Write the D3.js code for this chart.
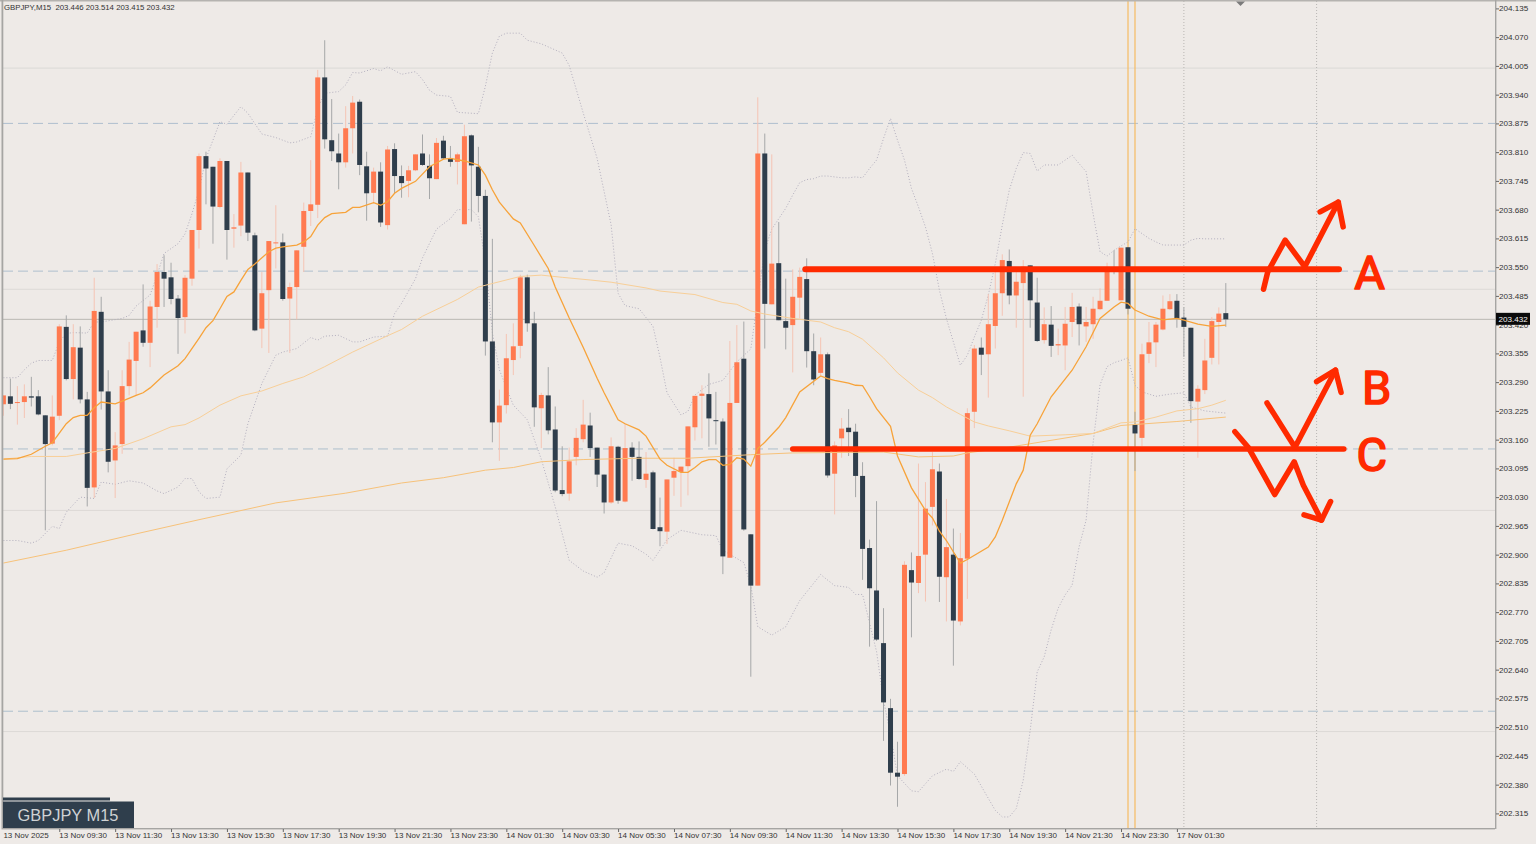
<!DOCTYPE html>
<html><head><meta charset="utf-8">
<script src="https://cdn.jsdelivr.net/npm/d3@7"></script>
<style>
html,body{margin:0;padding:0;background:#eeeae7;overflow:hidden}
svg{display:block}
text{font-family:"Liberation Sans",Arial,sans-serif}
</style></head><body>
<svg id="c" width="1536" height="844"></svg>
<script>
const symbolHeader = "GBPJPY,M15  203.446 203.514 203.415 203.432";
const symbolBadge = "GBPJPY M15";
const opens = [
203.240,203.258,203.243,203.245,203.258,203.258,203.215,203.151,203.214,203.415,
203.297,203.368,203.251,203.052,203.449,203.269,203.113,203.150,203.281,203.338,
203.407,203.379,203.460,203.539,203.527,203.479,203.437,203.524,203.634,203.801,
203.777,203.686,203.790,203.637,203.644,203.764,203.622,203.411,203.498,203.605,
203.606,203.479,203.505,203.596,203.677,203.691,203.979,203.837,203.807,203.787,
203.864,203.924,203.778,203.718,203.766,203.645,203.817,203.756,203.745,203.769,
203.807,203.779,203.749,203.836,203.796,203.788,203.647,203.848,203.777,203.711,
203.382,203.199,203.238,203.340,203.372,203.527,203.423,203.231,203.260,203.183,
203.046,203.038,203.121,203.161,203.192,203.142,203.081,203.018,203.144,203.020,
203.142,203.121,203.069,203.086,202.962,202.952,203.074,203.087,203.100,203.188,
203.259,203.263,203.204,203.201,202.893,203.243,203.343,202.946,202.830,203.807,
203.466,203.559,203.428,203.419,203.481,203.523,203.360,203.311,203.353,203.083,
203.163,203.187,203.178,203.078,202.915,202.819,202.700,202.553,202.407,202.404,
202.865,202.836,202.900,203.008,203.088,202.849,202.900,202.749,202.891,203.223,
203.368,203.353,203.417,203.491,203.564,203.486,203.514,203.554,203.470,203.385,
203.420,203.373,203.373,203.426,203.461,203.416,203.421,203.455,203.474,203.545,
203.475,203.595,203.194,203.164,203.354,203.380,203.409,203.455,203.474,203.436,
203.413,203.246,203.272,203.345,203.426,203.446];
const highs = [
203.260,203.298,203.281,203.285,203.302,203.272,203.215,203.260,203.421,203.441,
203.421,203.416,203.268,203.526,203.483,203.317,203.177,203.317,203.381,203.404,
203.511,203.474,203.557,203.577,203.560,203.487,203.532,203.634,203.807,203.811,
203.777,203.796,203.790,203.670,203.788,203.764,203.628,203.539,203.609,203.690,
203.626,203.515,203.588,203.696,203.792,203.996,204.063,203.930,203.852,203.914,
203.937,203.929,203.811,203.775,203.787,203.824,203.830,203.780,203.779,203.805,
203.850,203.805,203.842,203.847,203.824,203.809,203.872,203.850,203.822,203.725,
203.614,203.273,203.399,203.423,203.533,203.533,203.449,203.266,203.324,203.235,
203.145,203.142,203.186,203.250,203.221,203.142,203.081,203.165,203.146,203.196,
203.154,203.156,203.132,203.090,203.029,203.070,203.119,203.099,203.190,203.259,
203.283,203.310,203.268,203.208,203.383,203.419,203.427,202.946,203.934,203.852,
203.805,203.652,203.524,203.545,203.549,203.570,203.400,203.391,203.357,203.156,
203.209,203.229,203.196,203.109,202.934,203.021,202.779,202.574,202.477,202.885,
202.905,203.106,203.064,203.132,203.106,203.026,202.959,202.949,203.231,203.374,
203.391,203.489,203.549,203.579,203.590,203.547,203.566,203.554,203.526,203.459,
203.462,203.411,203.460,203.492,203.468,203.460,203.483,203.502,203.560,203.588,
203.594,203.595,203.223,203.377,203.426,203.426,203.486,203.489,203.489,203.459,
203.413,203.283,203.388,203.437,203.459,203.514];
const lows = [
203.214,203.229,203.194,203.209,203.235,203.215,202.955,203.147,203.204,203.294,
203.251,203.242,203.009,203.028,203.228,203.086,203.028,203.128,203.260,203.260,
203.370,203.324,203.413,203.460,203.466,203.354,203.400,203.508,203.592,203.692,
203.603,203.683,203.567,203.594,203.620,203.609,203.405,203.367,203.356,203.547,
203.474,203.356,203.432,203.539,203.643,203.661,203.818,203.790,203.726,203.775,
203.807,203.758,203.655,203.694,203.641,203.635,203.717,203.707,203.708,203.767,
203.779,203.704,203.749,203.794,203.777,203.737,203.647,203.653,203.674,203.350,
203.154,203.112,203.219,203.306,203.344,203.404,203.189,203.141,203.172,203.041,
203.032,203.022,203.102,203.154,203.121,203.053,202.993,203.015,203.015,203.018,
203.067,203.069,203.051,202.957,202.919,202.924,203.033,203.008,203.034,203.158,
203.163,203.144,203.149,202.856,202.893,203.243,202.954,202.624,202.830,203.366,
203.466,203.430,203.364,203.312,203.434,203.323,203.283,203.306,203.074,202.991,
203.119,203.123,203.030,202.843,202.692,202.705,202.479,202.378,202.330,202.400,
202.713,202.813,202.794,202.966,202.793,202.749,202.649,202.740,202.800,203.186,
203.306,203.255,203.366,203.440,203.466,203.413,203.257,203.413,203.381,203.377,
203.347,203.351,203.317,203.392,203.373,203.381,203.388,203.453,203.474,203.534,
203.475,203.443,203.089,203.145,203.333,203.324,203.407,203.453,203.413,203.347,
203.198,203.119,203.263,203.330,203.330,203.415];
const closes = [
203.260,203.241,203.245,203.258,203.255,203.217,203.150,203.212,203.416,203.297,
203.369,203.251,203.051,203.451,203.269,203.110,203.147,203.281,203.341,203.404,
203.379,203.461,203.539,203.524,203.478,203.435,203.526,203.634,203.801,203.773,
203.687,203.790,203.634,203.640,203.764,203.628,203.407,203.491,203.609,203.606,
203.478,203.505,203.588,203.677,203.692,203.979,203.839,203.812,203.787,203.864,
203.922,203.781,203.717,203.766,203.651,203.816,203.756,203.740,203.769,203.805,
203.781,203.751,203.831,203.796,203.788,203.805,203.846,203.780,203.711,203.382,
203.199,203.237,203.344,203.371,203.527,203.423,203.233,203.261,203.181,203.045,
203.037,203.111,203.164,203.194,203.141,203.081,203.018,203.145,203.022,203.141,
203.121,203.071,203.083,202.958,202.953,203.070,203.089,203.099,203.190,203.259,
203.264,203.208,203.202,202.896,203.243,203.335,202.957,202.830,203.807,203.467,
203.558,203.430,203.413,203.483,203.528,203.360,203.296,203.353,203.079,203.147,
203.185,203.177,203.078,202.913,202.824,202.708,202.566,202.407,202.398,202.877,
202.837,202.897,203.004,203.093,202.850,202.917,202.751,202.892,203.220,203.366,
203.352,203.421,203.491,203.566,203.486,203.517,203.551,203.475,203.383,203.421,
203.372,203.376,203.422,203.460,203.421,203.426,203.456,203.474,203.545,203.540,
203.594,203.456,203.174,203.353,203.380,203.420,203.456,203.473,203.434,203.415,
203.247,203.275,203.339,203.428,203.445,203.432];

const fastMaBars = [0,2,4,6,7,9,10,11,12,13,14,16,17,19,20,21,23,25,26,28,29,30,31,32,33,34,35,36,38,39,40,42,43,44,45,46,47,49,50,51,53,54,55,56,57,59,61,63,64,66,68,69,70,71,73,74,76,78,79,81,83,85,86,88,89,91,92,94,95,97,98,99,100,101,102,103,104,105,106,107,108,109,111,112,114,117,118,119,121,122,123,124,125,127,128,130,132,133,134,135,137,138,141,142,143,145,146,147,148,150,153,155,157,159,160,161,162,164,166,168,169,171,173,175];
const fastMaValues = [203.116,203.117,203.127,203.145,203.153,203.196,203.210,203.215,203.215,203.232,203.245,203.241,203.247,203.260,203.266,203.277,203.306,203.327,203.343,203.389,203.413,203.429,203.456,203.484,203.494,203.520,203.545,203.557,203.585,203.593,203.596,203.600,203.607,203.619,203.645,203.662,203.671,203.674,203.685,203.685,203.696,203.690,203.698,203.717,203.728,203.744,203.777,203.794,203.796,203.790,203.781,203.758,203.725,203.697,203.659,203.650,203.599,203.547,203.505,203.435,203.369,203.299,203.266,203.205,203.196,203.182,203.168,203.116,203.102,203.086,203.086,203.097,203.110,203.115,203.115,203.102,203.104,203.119,203.116,203.100,203.140,203.154,203.188,203.210,203.268,203.304,203.298,203.294,203.288,203.283,203.282,203.257,203.230,203.190,203.123,203.051,203.000,202.983,202.953,202.932,202.881,202.889,202.917,202.940,202.978,203.060,203.091,203.170,203.196,203.257,203.317,203.370,203.434,203.460,203.471,203.468,203.453,203.439,203.431,203.434,203.430,203.421,203.416,203.419];

const midMaBars = [0,4,9,12,16,20,24,26,28,31,34,37,40,43,46,50,55,57,60,65,68,70,74,77,80,84,87,92,94,99,103,105,107,109,113,117,119,121,123,126,128,131,133,135,137,139,141,144,147,152,156,159,160,162,165,168,171,173,175];
const midMaValues = [203.116,203.122,203.122,203.130,203.140,203.162,203.189,203.194,203.209,203.238,203.259,203.270,203.287,203.302,203.325,203.358,203.395,203.409,203.439,203.477,203.505,203.513,203.529,203.532,203.527,203.521,203.516,203.503,203.496,203.488,203.470,203.466,203.451,203.444,203.434,203.426,203.413,203.404,203.387,203.345,203.311,203.272,203.255,203.234,203.217,203.200,203.191,203.180,203.168,203.171,203.174,203.192,203.198,203.200,203.211,203.225,203.230,203.238,203.249];

const slowMaBars = [0,9,19,28,39,49,57,63,69,73,77,83,91,98,107,113,126,131,136,138,144,156,160,168,175];
const slowMaValues = [202.881,202.910,202.947,202.979,203.017,203.039,203.062,203.074,203.091,203.097,203.110,203.115,203.118,203.118,203.126,203.130,203.132,203.121,203.123,203.130,203.143,203.174,203.192,203.201,203.211];

const upperBandBars = [0,2,3,4,5,7,8,9,10,12,13,14,17,18,19,21,22,23,25,26,27,28,29,30,31,32,34,35,37,39,41,42,44,45,46,48,49,50,51,53,54,55,57,59,60,61,62,64,65,68,69,70,71,72,74,75,77,80,81,83,85,87,88,89,91,93,94,95,97,98,99,101,103,105,107,109,110,112,113,114,115,116,117,118,119,120,121,122,123,124,125,126,127,128,129,130,131,132,133,134,135,136,137,138,139,140,141,142,143,144,145,146,147,148,149,150,151,152,153,154,155,156,157,158,159,160,161,162,163,164,165,166,168,169,170,171,172,175];
const upperBandValues = [203.300,203.300,203.318,203.333,203.339,203.339,203.381,203.400,203.402,203.401,203.426,203.426,203.434,203.441,203.462,203.487,203.532,203.581,203.603,203.625,203.671,203.724,203.796,203.837,203.879,203.873,203.913,203.898,203.851,203.843,203.831,203.833,203.845,203.909,203.943,203.947,203.962,203.990,203.989,203.999,203.994,204.003,203.986,203.992,203.974,203.950,203.939,203.936,203.900,203.897,203.959,204.034,204.072,204.079,204.079,204.063,204.055,204.034,204.006,203.899,203.796,203.646,203.491,203.463,203.456,203.416,203.346,203.266,203.216,203.224,203.261,203.285,203.294,203.336,203.365,203.589,203.636,203.683,203.713,203.741,203.748,203.750,203.756,203.756,203.754,203.752,203.752,203.754,203.752,203.773,203.792,203.841,203.886,203.837,203.792,203.728,203.686,203.641,203.581,203.498,203.434,203.381,203.328,203.351,203.392,203.430,203.487,203.558,203.645,203.724,203.773,203.809,203.807,203.767,203.781,203.781,203.781,203.792,203.803,203.784,203.766,203.671,203.585,203.575,203.588,203.598,203.607,203.637,203.626,203.615,203.607,203.600,203.600,203.600,203.611,203.615,203.614,203.614];

const lowerBandBars = [0,2,4,5,7,8,9,11,13,14,16,18,20,22,23,25,26,27,28,29,31,32,34,35,37,39,40,42,44,45,46,48,50,51,53,55,56,57,59,60,62,64,65,67,68,69,70,71,73,75,77,79,81,83,85,86,88,90,92,93,95,97,100,102,103,106,107,108,110,112,114,117,119,121,122,123,125,126,127,128,130,131,133,135,136,137,139,141,142,143,144,145,146,147,148,149,150,151,152,153,154,155,156,157,158,159,160,161,162,163,165,167,169,170,172,175];
const lowerBandValues = [202.932,202.932,202.926,202.932,202.964,202.959,202.996,203.030,203.027,203.064,203.059,203.067,203.062,203.044,203.038,203.053,203.072,203.072,203.042,203.027,203.030,203.094,203.125,203.196,203.287,203.351,203.358,203.366,203.391,203.385,203.394,203.396,203.381,203.381,203.392,203.394,203.445,203.468,203.524,203.571,203.636,203.660,203.680,203.680,203.664,203.561,203.402,203.318,203.238,203.205,203.116,203.008,202.887,202.863,202.849,202.859,202.926,202.920,202.901,202.887,202.934,202.955,202.945,202.943,202.910,202.882,202.830,202.737,202.718,202.737,202.796,202.855,202.830,202.826,202.810,202.810,202.681,202.570,202.494,202.400,202.366,202.364,202.400,202.415,202.410,202.432,202.404,202.349,202.322,202.307,202.307,202.326,202.390,202.503,202.635,202.669,202.730,202.779,202.809,202.831,202.918,202.978,203.152,203.284,203.325,203.334,203.339,203.345,203.283,203.268,203.258,203.263,203.266,203.234,203.225,203.220];

const priceTicks = [204.135,204.070,204.005,203.940,203.875,203.810,203.745,203.680,203.615,203.550,203.485,203.420,203.355,203.290,203.225,203.160,203.095,203.030,202.965,202.900,202.835,202.770,202.705,202.640,202.575,202.510,202.445,202.380,202.315];
const timeTickBars = [0,8,16,24,32,40,48,56,64,72,80,88,96,104,112,120,128,136,144,152,160,168];
const timeTickLabels = ["13 Nov 2025","13 Nov 09:30","13 Nov 11:30","13 Nov 13:30","13 Nov 15:30","13 Nov 17:30","13 Nov 19:30","13 Nov 21:30","13 Nov 23:30","14 Nov 01:30","14 Nov 03:30","14 Nov 05:30","14 Nov 07:30","14 Nov 09:30","14 Nov 11:30","14 Nov 13:30","14 Nov 15:30","14 Nov 17:30","14 Nov 19:30","14 Nov 21:30","14 Nov 23:30","17 Nov 01:30"];

const roundLevels = [204.0,203.5,203.0,202.5];
const dashedLevels = [203.875,203.541,203.139,202.546];
const bidPrice = 203.432;
const orangeVerticalBars = [161,162];
const dottedVerticalBars = [169,188];

// hand-drawn annotation strokes, as [bar, price]
const levelA = [[114.8,203.545],[191.2,203.545]];
const levelC = [[113.0,203.139],[191.9,203.139]];
const scribbleA = [[180.4,203.500],[181.0,203.539],[183.5,203.611],[186.3,203.551],[191.1,203.697]];
const arrowheadA = [[188.5,203.675],[191.1,203.697],[191.8,203.641]];
const scribbleB = [[180.9,203.243],[184.9,203.143],[190.7,203.317]];
const arrowheadB = [[188.0,203.291],[190.7,203.317],[191.5,203.267]];
const scribbleC = [[176.3,203.178],[178.2,203.143],[182.0,203.036],[184.8,203.110],[186.1,203.057],[188.7,202.978]];
const arrowheadC = [[186.2,202.990],[188.7,202.978],[190.0,203.020]];
const handLabels = [{t:"A",bar:195.6,price:203.529},{t:"B",bar:196.6,price:203.268},{t:"C",bar:195.9,price:203.118}];

const W=1536,H=844,plotL=3,plotR=1495,plotT=1,plotB=828;
const x=d3.scaleLinear().domain([0,175]).range([3.4,1225.8]);
const y=d3.scaleLinear().domain([204.135,202.315]).range([8.4,813.4]);
const svg=d3.select("#c");
const bars=opens.map((o,i)=>({i,o,h:highs[i],l:lows[i],c:closes[i]}));
const DARK="#2f3e4c",ORG="#ff7a50",RED="#ff2a00",AXIS_TEXT="#333333";

svg.append("rect").attr("width",W).attr("height",H).attr("fill","#eeeae7");
svg.append("clipPath").attr("id","plot").append("rect").attr("x",plotL).attr("y",plotT).attr("width",plotR-plotL).attr("height",plotB-plotT);
const g=svg.append("g").attr("clip-path","url(#plot)");

g.selectAll(".round").data(roundLevels).join("line").attr("x1",plotL).attr("x2",plotR)
 .attr("y1",d=>y(d)).attr("y2",d=>y(d)).attr("stroke","#dcd9d6").attr("stroke-width",1);
g.selectAll(".dash").data(dashedLevels).join("line").attr("x1",plotL).attr("x2",plotR)
 .attr("y1",d=>y(d)).attr("y2",d=>y(d)).attr("stroke","#aebfce").attr("stroke-width",1).attr("stroke-dasharray","10,5");
g.append("line").attr("x1",plotL).attr("x2",plotR).attr("y1",y(bidPrice)).attr("y2",y(bidPrice)).attr("stroke","#bab7b2").attr("stroke-width",1);
g.selectAll(".vd").data(dottedVerticalBars).join("line").attr("y1",plotT).attr("y2",plotB)
 .attr("x1",d=>x(d)).attr("x2",d=>x(d)).attr("stroke","#b8b6b3").attr("stroke-width",1).attr("stroke-dasharray","1,2");
g.selectAll(".vo").data(orangeVerticalBars).join("line").attr("y1",plotT).attr("y2",plotB)
 .attr("x1",d=>x(d)).attr("x2",d=>x(d)).attr("stroke","#f6bb62").attr("stroke-width",1.2);

const line=(b,v)=>d3.line().x((d,i)=>x(b[i])).y(d=>y(d))(v);
const path=(b,v,s,w,da)=>g.append("path").attr("d",line(b,v)).attr("fill","none").attr("stroke",s).attr("stroke-width",w).attr("stroke-dasharray",da||null);
path(upperBandBars,upperBandValues,"#b3afbe",1,"1,2");
path(lowerBandBars,lowerBandValues,"#b3afbe",1,"1,2");

g.selectAll(".wick").data(bars).join("line")
 .attr("x1",d=>x(d.i)).attr("x2",d=>x(d.i)).attr("y1",d=>y(d.h)).attr("y2",d=>y(d.l))
 .attr("stroke",d=>d.c>=d.o?"#f5c4b4":"#a5a7a8").attr("stroke-width",1);
g.selectAll(".body").data(bars).join("rect")
 .attr("x",d=>x(d.i)-2.5).attr("width",5)
 .attr("y",d=>y(Math.max(d.o,d.c))).attr("height",d=>Math.max(1,Math.abs(y(d.o)-y(d.c))))
 .attr("fill",d=>d.c>=d.o?ORG:DARK);

path(slowMaBars,slowMaValues,"#f7c27a",1);
path(midMaBars,midMaValues,"#f8cf98",1);
path(fastMaBars,fastMaValues,"#f7a33a",1.3);

const ann=svg.append("g").attr("fill","none").attr("stroke",RED).attr("stroke-linecap","round").attr("stroke-linejoin","round");
const pl=d3.line().x(d=>x(d[0])).y(d=>y(d[1]));
[[levelA,6],[levelC,5.5],[scribbleA,5.5],[arrowheadA,5.5],[scribbleB,5.5],[arrowheadB,5.5],[scribbleC,5.5],[arrowheadC,5.5]].forEach(([a,w])=>
  ann.append("path").attr("d",pl(a)).attr("stroke-width",w));
svg.selectAll(".hand").data(handLabels).join("text")
 .attr("x",d=>x(d.bar)).attr("y",d=>y(d.price)).attr("text-anchor","middle").attr("dominant-baseline","middle")
 .attr("font-size",47).attr("fill",RED).attr("stroke",RED).attr("stroke-width",1.6).attr("stroke-linejoin","round")
 .style("font-family","Roboto").text(d=>d.t);

// frame
const frame="#a6a5a3";
svg.append("rect").attr("x",0).attr("y",0).attr("width",W).attr("height",1.5).attr("fill","#b5b3b0");
svg.append("rect").attr("x",1.5).attr("y",0).attr("width",1.8).attr("height",plotB).attr("fill",frame);
svg.append("rect").attr("x",1.5).attr("y",plotB).attr("width",plotR-1.5).attr("height",1.4).attr("fill",frame);
svg.append("rect").attr("x",plotR).attr("y",0).attr("width",1.4).attr("height",plotB+1).attr("fill",frame);

// axes
const ya=d3.axisRight(y).tickValues(priceTicks).tickFormat(d3.format(".3f")).tickSize(3).tickPadding(0);
const yg=svg.append("g").attr("transform",`translate(${plotR+1},0)`).call(ya);
yg.select(".domain").remove();
yg.selectAll("text").attr("font-size",8.1).attr("fill",AXIS_TEXT).style("font-family","'Liberation Sans'");
yg.selectAll("line").attr("stroke","#666");
const xa=d3.axisBottom(x).tickValues(timeTickBars).tickFormat((d,i)=>timeTickLabels[i]).tickSize(3).tickPadding(0);
const xg=svg.append("g").attr("transform",`translate(0,${plotB+1})`).call(xa);
xg.select(".domain").remove();
xg.selectAll("text").attr("text-anchor","start").attr("dx",-0.5).attr("font-size",8).attr("fill",AXIS_TEXT).style("font-family","'Liberation Sans'");
xg.selectAll("line").attr("stroke","#666");
xg.selectAll(".tick").filter((d,i)=>i===0).select("line").remove();

// bid tag
svg.append("rect").attr("x",plotR+1).attr("y",y(bidPrice)-6.5).attr("width",34).attr("height",12).attr("fill","#0a0a0a");
svg.append("text").attr("x",plotR+3.5).attr("y",y(bidPrice)+3).attr("font-size",8.1).attr("fill","#f2f2f2").text(d3.format(".3f")(bidPrice));

// header
svg.append("text").attr("x",4).attr("y",10).attr("font-size",7.8).attr("fill",AXIS_TEXT).attr("xml:space","preserve").style("white-space","pre").text(symbolHeader);
// shift marker
svg.append("path").attr("d",d3.line()([[1236,1.5],[1245,1.5],[1240.5,6]])+"Z").attr("fill","#7b7b7b");

// badge
svg.append("rect").attr("x",3).attr("y",797.5).attr("width",107).attr("height",3).attr("fill","#2f3e4c");
svg.append("rect").attr("x",3).attr("y",801.5).attr("width",131).attr("height",26.5).attr("fill","#2f3e4c");
svg.append("text").attr("x",68).attr("y",820.5).attr("text-anchor","middle").attr("font-size",16.4).attr("fill","#cfd2d4").text(symbolBadge);
</script>
</body></html>
